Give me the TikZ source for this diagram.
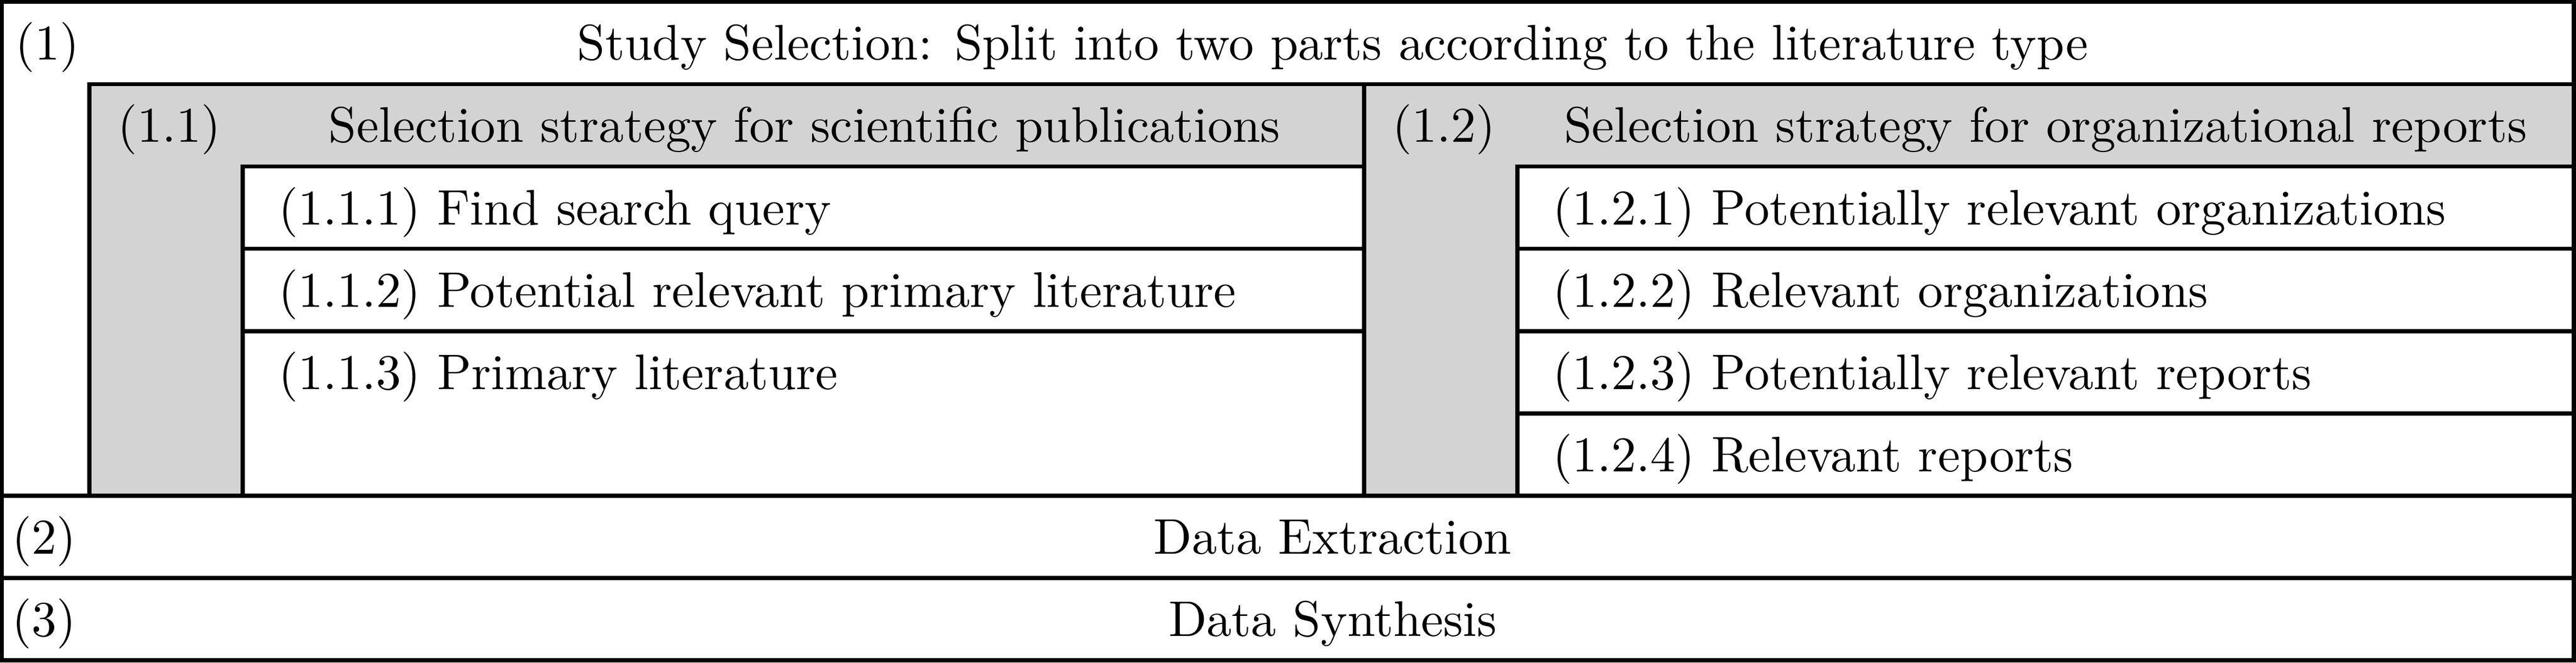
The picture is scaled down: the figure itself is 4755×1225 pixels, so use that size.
\documentclass[tikz,border=0pt]{standalone}
\definecolor{cellgray}{RGB}{211,211,211}
\begin{document}
\begin{tikzpicture}[x=0.108696pt, y=-0.108696pt, line width=0.8pt,
  lbl/.style={anchor=base west, inner sep=0pt, font=\fontsize{10.05}{12}\selectfont},
  ctr/.style={anchor=base, inner sep=0pt, font=\fontsize{10.05}{12}\selectfont},
  greybox/.style={draw=black, fill=cellgray},
  whitebox/.style={draw=black, fill=white}]
\useasboundingbox (0,0) rectangle (4755,1225);
\fill[white] (0,0) rectangle (4755,1225);
% grey group boxes
\draw[greybox] (165,155.7) rectangle (2518,915.9);
\draw[greybox] (2518,155.7) rectangle (4751,915.9);
% white step boxes, part 1.1
\draw[whitebox] (448,307.8) rectangle (2518,459.8);
\draw[whitebox] (448,459.8) rectangle (2518,611.9);
\draw[whitebox] (448,611.9) rectangle (2518,915.9);
% white step boxes, part 1.2
\draw[whitebox] (2801,307.8) rectangle (4751,459.8);
\draw[whitebox] (2801,459.8) rectangle (4751,611.9);
\draw[whitebox] (2801,611.9) rectangle (4751,763.9);
\draw[whitebox] (2801,763.9) rectangle (4751,915.9);
% full-width separators and outer frame
\draw (3.7,915.9) -- (4751,915.9);
\draw (3.7,1067.9) -- (4751,1067.9);
\draw (3.7,3.7) rectangle (4751,1219.9);
% texts
\node[lbl] (n1) at (25,111) {(1)};
\node[ctr] (t1) at (2460,111) {Study Selection: Split into two parts according to the literature type};
\node[lbl] (n11) at (213.6,263) {(1.1)};
\node[ctr] (t11) at (1485,263) {Selection strategy for scientific publications};
\node[lbl] (n12) at (2566.6,263) {(1.2)};
\node[ctr] (t12) at (3776,263) {Selection strategy for organizational reports};
\node[lbl] (s111) at (511,415.1) {(1.1.1) Find search query};
\node[lbl] (s112) at (511,567.1) {(1.1.2) Potential relevant primary literature};
\node[lbl] (s113) at (511,719.2) {(1.1.3) Primary literature};
\node[lbl] (s121) at (2863,415.1) {(1.2.1) Potentially relevant organizations};
\node[lbl] (s122) at (2863,567.1) {(1.2.2) Relevant organizations};
\node[lbl] (s123) at (2863,719.2) {(1.2.3) Potentially relevant reports};
\node[lbl] (s124) at (2863,871.2) {(1.2.4) Relevant reports};
\node[lbl] (n2) at (19,1023.2) {(2)};
\node[ctr] (t2) at (2460,1023.2) {Data Extraction};
\node[lbl] (n3) at (19,1175.3) {(3)};
\node[ctr] (t3) at (2460,1175.3) {Data Synthesis};
\end{tikzpicture}
\end{document}
